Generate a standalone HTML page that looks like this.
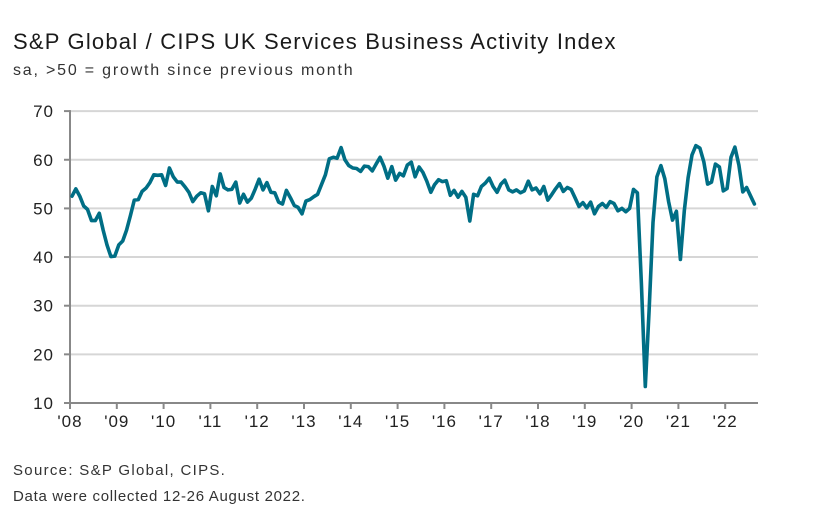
<!DOCTYPE html>
<html><head><meta charset="utf-8">
<style>
body{margin:0;background:#fff;font-family:"Liberation Sans",sans-serif;}
#wrap{position:relative;width:836px;height:527px;overflow:hidden;}
.t{position:absolute;color:#222;white-space:nowrap;}
</style></head>
<body>
<div id="wrap">
<div class="t" style="left:13px;top:29px;font-size:22px;letter-spacing:1.2px;color:#1a1a1a">S&amp;P Global / CIPS UK Services Business Activity Index</div>
<div class="t" style="left:13px;top:62px;font-size:16px;letter-spacing:1.8px;color:#333">sa, &gt;50 = growth since previous month</div>
<svg id="chart" width="836" height="527" style="position:absolute;left:0;top:0"></svg>
<div class="t" style="left:13px;top:462px;font-size:15px;letter-spacing:1.3px;color:#333">Source: S&amp;P Global, CIPS.</div>
<div class="t" style="left:13px;top:488px;font-size:15px;letter-spacing:0.7px;color:#333">Data were collected 12-26 August 2022.</div>
</div>
<script>
const yTicks=[10,20,30,40,50,60,70];
const yearLabels=["'08","'09","'10","'11","'12","'13","'14","'15","'16","'17","'18","'19","'20","'21","'22"];
const values=[
52.5,54,52.5,50.5,49.8,47.5,47.5,49,45.5,42.5,40.1,40.2,
42.5,43.3,45.5,48.5,51.7,51.8,53.5,54.2,55.3,56.9,56.8,56.9,
54.7,58.3,56.5,55.4,55.4,54.4,53.3,51.4,52.5,53.2,53.0,49.5,
54.5,52.6,57.1,54.3,53.8,53.9,55.4,51.1,52.9,51.3,52.1,54.0,
56.0,53.8,55.3,53.3,53.2,51.3,50.9,53.7,52.2,50.6,50.2,48.9,
51.5,51.8,52.4,52.9,54.9,56.9,60.2,60.5,60.3,62.5,60.0,58.8,
58.3,58.2,57.6,58.7,58.6,57.7,59.1,60.5,58.7,56.2,58.6,55.8,
57.2,56.7,58.9,59.5,56.5,58.5,57.4,55.6,53.3,54.9,55.9,55.5,
55.7,52.7,53.7,52.3,53.5,52.3,47.4,52.9,52.6,54.5,55.2,56.2,
54.5,53.3,55.0,55.8,53.8,53.4,53.8,53.2,53.6,55.6,53.8,54.2,
53.0,54.5,51.7,52.8,54.0,55.1,53.5,54.3,53.9,52.2,50.4,51.2,
50.1,51.3,48.9,50.4,51.0,50.2,51.4,51.0,49.5,50.0,49.3,50.0,
53.9,53.2,34.5,13.4,29.0,47.1,56.5,58.8,56.1,51.4,47.6,49.4,
39.5,49.5,56.3,61.0,62.9,62.4,59.6,55.0,55.4,59.1,58.5,53.6,
54.1,60.5,62.6,58.9,53.4,54.3,52.6,50.9];
const NS="http://www.w3.org/2000/svg";
const svg=document.getElementById('chart');
const X0=70,MW=3.9,YB=403,YU=4.865;
function xm(i){return X0+(i+0.5)*MW;}
function xy(y){return X0+y*12*MW;}
function yv(v){return YB-(v-10)*YU;}
function mk(t,a){const e=document.createElementNS(NS,t);for(const k in a)e.setAttribute(k,a[k]);svg.appendChild(e);return e;}
yTicks.forEach(v=>{
  if(v>10){const g=mk('line',{x1:X0,x2:758,y1:yv(v),y2:yv(v),stroke:'#d6d6d6','stroke-width':2});
  
  }
  const tk=mk('line',{x1:X0-6,x2:X0,y1:yv(v),y2:yv(v),stroke:'#888','stroke-width':2});
  
  
  const t=mk('text',{x:X0-16,y:yv(v)+6,'text-anchor':'end','font-size':17,'letter-spacing':1,fill:'#222','font-family':'Liberation Sans, sans-serif'});
  t.textContent=v;
  
  
});
const ya=mk('line',{x1:X0,x2:X0,y1:yv(70)-1,y2:YB,stroke:'#888','stroke-width':2});


const xa=mk('line',{x1:X0,x2:758,y1:YB,y2:YB,stroke:'#888','stroke-width':2});


yearLabels.forEach((l,i)=>{
  const tk=mk('line',{x1:xy(i),x2:xy(i),y1:YB,y2:YB+6,stroke:'#888','stroke-width':2});
  
  
  const t=mk('text',{x:xy(i),y:YB+24,'text-anchor':'middle','font-size':17,'letter-spacing':1,fill:'#222','font-family':'Liberation Sans, sans-serif'});
  t.textContent=l;
  
  
});
const p=mk('polyline',{points:values.map((v,i)=>xm(i).toFixed(1)+','+yv(v).toFixed(1)).join(' '),fill:'none',stroke:'#006e85','stroke-width':3.6,'stroke-linejoin':'round','stroke-linecap':'round'});


</script>
</body></html>
